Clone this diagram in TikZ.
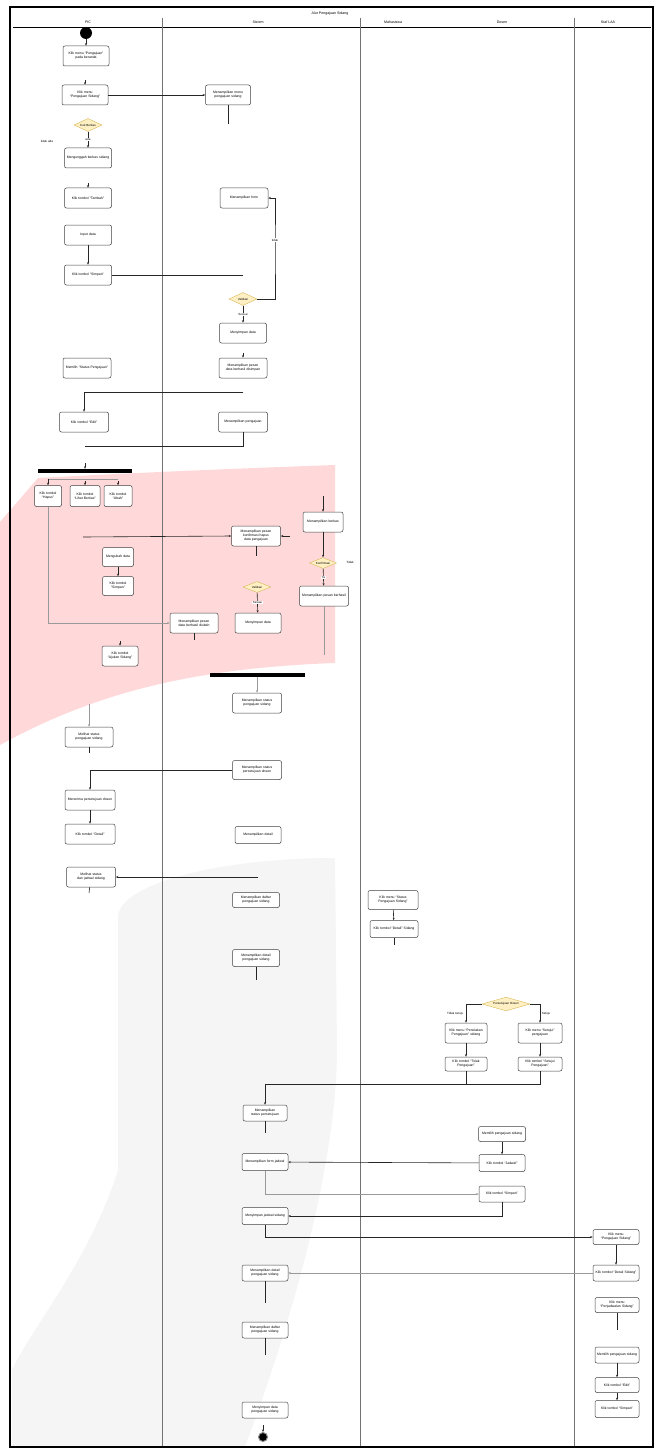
\documentclass[tikz,border=0pt]{standalone}
\usepackage{fontspec}
\setmainfont{Liberation Sans}
\usetikzlibrary{arrows.meta,shapes.geometric}
\definecolor{wmpink}{RGB}{255,217,217}
\definecolor{wmgrey}{RGB}{245,245,245}
\definecolor{dfill}{RGB}{255,240,196}
\definecolor{ddraw}{RGB}{214,182,86}
\tikzset{
 act/.style={draw=black!75, line width=0.5pt, rounded corners=2pt, fill=white, align=center, font=\fontsize{3.4}{4}\selectfont, inner sep=1pt},
 dec/.style={diamond, aspect=2.6, draw=ddraw, fill=dfill, line width=0.4pt, inner sep=0.4pt, font=\fontsize{3}{3.5}\selectfont},
 conn/.style={draw=black!85, line width=0.6pt},
 arr/.style={conn, -{Stealth[length=2.5pt,width=2pt]}},
 gconn/.style={draw=black!40, line width=0.6pt},
 garr/.style={gconn, -{Stealth[length=2.5pt,width=2pt]}},
 lbl/.style={font=\fontsize{3}{3.5}\selectfont, inner sep=0.5pt},
 lane/.style={font=\fontsize{3.6}{4}\selectfont, inner sep=0.5pt},
 syncbar/.style={fill=black, inner sep=0pt, minimum height=4pt},
}
\newcommand{\actnode}[6]{\node[act, minimum width=#4pt, minimum height=#5pt, text width=\dimexpr#4pt-3pt\relax] (#1) at (#2,#3) {#6};}
\begin{document}
\hyphenpenalty=10000
\exhyphenpenalty=10000
\lefthyphenmin=64
\begin{tikzpicture}[x=1pt,y=-1pt]
\useasboundingbox (0,0) rectangle (660,1450);
% watermark
\fill[wmpink] (0,522) -- (38,478) .. controls (150,472) and (250,468) .. (335,465) -- (335,663) .. controls (200,668) and (100,690) .. (0,745) -- cycle;
\fill[wmgrey] (335,858) .. controls (230,858) and (125,880) .. (118,915) -- (118,1170) .. controls (90,1260) and (30,1330) .. (12,1370) -- (12,1447) -- (245,1447) .. controls (300,1300) and (337,1150) .. (337,1050) -- cycle;
% frame and lanes
\draw[line width=1.6pt] (10,7) rectangle (653,1447);
\draw[line width=0.6pt] (13,27) -- (651,27);
\draw[black!55, line width=0.8pt] (162,18) -- (162,1446);
\draw[black!55, line width=0.8pt] (360,18) -- (360,1446);
\draw[black!55, line width=0.8pt] (574,18) -- (574,1446);
\node[lane] (title) at (330,14) {Alur Pengajuan Sidang};
\node[lane] (L1) at (88,22) {PIC};
\node[lane] (L2) at (258,22) {Sistem};
\node[lane] (L3) at (393,22) {Mahasiswa};
\node[lane] (L4) at (502,22) {Dosen};
\node[lane] (L5) at (608,22) {Staf LAA};
% start
\node[circle, fill=black, minimum size=12pt, inner sep=0pt] (start) at (86,33) {};
% nodes
\actnode{n1}{86}{56}{46}{20}{Klik menu ``Pengajuan'' pada beranda}
\actnode{n2}{85}{95}{46}{20}{Klik menu ``Pengajuan Sidang''}
\actnode{s1}{228}{95}{45}{20}{Menampilkan menu pengajuan sidang}
\node[dec, minimum width=28pt, minimum height=13pt] (d1) at (88,125) {Cek Berkas};
\actnode{n3}{88}{158}{47}{20}{Mengunggah berkas sidang}
\actnode{n4}{88}{198}{47}{20}{Klik tombol ``Tambah''}
\actnode{n5}{88}{235}{47}{20}{Input data}
\actnode{n6}{88}{275}{47}{20}{Klik tombol ``Simpan''}
\actnode{s2}{244}{198}{48}{20}{Menampilkan form}
\node[dec, minimum width=28pt, minimum height=13pt] (d2) at (243,299) {Validasi};
\actnode{s3}{243}{333}{47}{20}{Menyimpan data}
\actnode{s4}{243}{368}{48}{20}{Menampilkan pesan data berhasil disimpan}
\actnode{n7}{87}{368}{48}{20}{Memilih ``Status Pengajuan''}
\actnode{n8}{84}{422}{49}{20}{Klik tombol ``Edit''}
\actnode{s5}{243}{422}{49}{20}{Menampilkan pengajuan}
\node[syncbar, minimum width=94pt] (fork) at (85,471) {};
\actnode{a1}{48}{496}{27}{21}{Klik tombol ``Hapus''}
\actnode{b1}{85}{496}{30}{21}{Klik tombol ``Lihat Berkas''}
\actnode{c1}{118}{496}{28}{21}{Klik tombol ``Ubah''}
\actnode{s6}{256}{536}{49}{20}{Menampilkan pesan konfirmasi hapus data pengajuan}
\actnode{s7}{323}{522}{40}{20}{Menampilkan berkas}
\node[dec, minimum width=27pt, minimum height=11pt] (d3) at (323,563) {Konfirmasi};
\actnode{s8}{324}{596}{49}{20}{Menampilkan pesan berhasil}
\actnode{n9}{118}{557}{31}{19}{Mengubah data}
\actnode{n10}{118}{586}{31}{19}{Klik tombol ``Simpan''}
\node[dec, minimum width=28pt, minimum height=11pt] (d4) at (257,587) {Validasi};
\actnode{s9}{258}{623}{46}{20}{Menyimpan data}
\actnode{s10}{194}{623}{48}{20}{Menampilkan pesan data berhasil diubah}
\actnode{n11}{120}{656}{36}{20}{Klik tombol ``Ajukan Sidang''}
\node[syncbar, minimum width=95pt] (join) at (257,675) {};
\actnode{s11}{257}{703}{49}{20}{Menampilkan status pengajuan sidang}
\actnode{n12}{89}{737}{48}{20}{Melihat status pengajuan sidang}
\actnode{s12}{257}{770}{49}{19}{Menampilkan status persetujuan dosen}
\actnode{n13}{90}{800}{50}{20}{Menerima persetujuan dosen}
\actnode{n14}{90}{834}{50}{20}{Klik tombol ``Detail''}
\actnode{s13}{258}{835}{46}{17}{Menampilkan detail}
\actnode{n15}{91}{877}{49}{20}{Melihat status dan jadwal sidang}
\actnode{s14}{256}{900}{47}{15}{Menampilkan daftar pengajuan sidang}
\actnode{s15}{256}{958}{47}{17}{Menampilkan detail pengajuan sidang}
\actnode{m1}{393}{900}{50}{19}{Klik menu ``Status Pengajuan Sidang''}
\actnode{m2}{394}{929}{48}{17}{Klik tombol ``Detail'' Sidang}
\node[dec, minimum width=48pt, minimum height=11pt] (d5) at (506,1004) {Persetujuan Dosen};
\actnode{dl1}{466}{1033}{42}{20}{Klik menu ``Penolakan Pengajuan'' sidang}
\actnode{dr1}{540}{1033}{44}{20}{Klik menu ``Setujui'' pengajuan}
\actnode{dl2}{466}{1064}{42}{14}{Klik tombol ``Tolak Pengajuan''}
\actnode{dr2}{540}{1064}{44}{14}{Klik tombol ``Setujui Pengajuan''}
\actnode{s16}{265}{1113}{44}{16}{Menampilkan status persetujuan}
\actnode{dd1}{502}{1134}{47}{15}{Memilih pengajuan sidang}
\actnode{dd2}{502}{1163}{46}{17}{Klik tombol ``Jadwal''}
\actnode{s17}{265}{1162}{46}{17}{Menampilkan form jadwal}
\actnode{dd3}{502}{1194}{46}{16}{Klik tombol ``Simpan''}
\actnode{s18}{265}{1216}{46}{17}{Menyimpan jadwal sidang}
\actnode{st1}{616}{1237}{46}{15}{Klik menu ``Pengajuan Sidang''}
\actnode{st2}{616}{1273}{46}{16}{Klik tombol ``Detail Sidang''}
\actnode{s19}{265}{1273}{46}{16}{Menampilkan detail pengajuan sidang}
\actnode{st3}{617}{1305}{44}{15}{Klik menu ``Penjadwalan Sidang''}
\actnode{s20}{265}{1330}{46}{16}{Menampilkan daftar pengajuan sidang}
\actnode{st4}{617}{1355}{44}{16}{Memilih pengajuan sidang}
\actnode{st5}{617}{1385}{44}{15}{Klik tombol ``Edit''}
\actnode{st6}{617}{1409}{44}{17}{Klik tombol ``Simpan''}
\actnode{s21}{265}{1410}{46}{16}{Menyimpan data pengajuan sidang}
\node[circle, fill=black, draw=black!45, line width=1pt, minimum size=9pt, inner sep=0pt] (end) at (263,1437) {};
% labels
\node[lbl] (l1) at (47,141) {tidak ada};
\node[lbl] (l4) at (350,562) {Tidak};
% helper coordinates
\coordinate (n2a) at (85,80);
\coordinate (n4a) at (88,183);
\coordinate (s1e) at (228,124);
\coordinate (n6e) at (243,275);
\coordinate (k1) at (275,250);
\coordinate (s4a) at (243,353);
\coordinate (h1) at (243,392);
\coordinate (h2) at (85,446);
\coordinate (fk) at (85,463);
\coordinate (fa) at (48,479);
\coordinate (fc) at (118,479);
\coordinate (fb) at (85,481);
\coordinate (fcc) at (118,481);
\coordinate (s10e) at (194,640);
\coordinate (h3) at (83,537);
\coordinate (h4) at (290,536);
\coordinate (s6e) at (256,556);
\coordinate (h5) at (323,496);
\coordinate (s8e) at (324,655);
\coordinate (n11a) at (120,641);
\coordinate (h6) at (89,704);
\coordinate (n12e) at (89,753);
\coordinate (h7) at (258,877);
\coordinate (n15e) at (89,893);
\coordinate (s15e) at (256,980);
\coordinate (m2e) at (394,945);
\coordinate (h8) at (265,1084);
\coordinate (h9) at (466,1084);
\coordinate (s16e) at (265,1133);
\coordinate (s19e) at (265,1303);
\coordinate (st3e) at (617,1330);
\coordinate (s20e) at (265,1355);
\coordinate (ea) at (263,1425);
% connectors
\draw[arr] (start) -- (n1);
\draw[arr] (n2a) -- (n2.north);
\draw[arr] (n2) -- (s1);
\draw[conn] (s1) -- (s1e);
\draw[arr] (d1) -- node[lbl, fill=white] {ada} (n3);
\draw[arr] (n4a) -- (n4.north);
\draw[arr] (n5) -- (n6);
\draw[conn] (n6) -- (n6e);
\draw[arr] (d2.east) -| (k1) |- (s2.east);
\node[lbl, fill=white] (l2) at (275,240) {tidak};
\draw[arr] (d2) -- node[lbl, fill=white] {Sesuai} (s3);
\draw[arr] (s4a) -- (s4.north);
\draw[arr] (h1) -| (n8.north);
\draw[conn] (s5.south) |- (h2);
\draw[arr] (fk) -- (fork);
\draw[gconn] (fc) -- (fa);
\draw[arr] (fa) -- (a1.north);
\draw[arr] (fb) -- (b1.north);
\draw[arr] (fcc) -- (c1.north);
\draw[garr] (a1.south) |- (s10.west);
\draw[conn] (s10) -- (s10e);
\draw[arr] (h3) -- (s6.west);
\draw[arr] (h4) -- (s6.east);
\draw[conn] (s6) -- (s6e);
\draw[arr] (h5) -- (s7.north);
\draw[arr] (s7) -- (d3);
\draw[arr] (d3) -- node[lbl, fill=white] {Ya} (s8);
\draw[gconn] (s8) -- (s8e);
\draw[arr] (n9) -- (n10);
\draw[arr] (d4) -- node[lbl, fill=white] {Sesuai} (s9);
\draw[arr] (n11a) -- (n11.north);
\draw[garr] (join) -- (s11);
\draw[garr] (h6) -- (n12.north);
\draw[conn] (n12) -- (n12e);
\draw[arr] (s12.west) -| (n13.north);
\draw[arr] (n13) -- (n14);
\draw[arr] (h7) -- (n15.east);
\draw[conn] (n15) -- (n15e);
\draw[conn] (s15) -- (s15e);
\draw[arr] (m1) -- (m2);
\draw[conn] (m2) -- (m2e);
\draw[arr] (d5.west) -| node[lbl, pos=0.75, left=2pt] {Tidak setuju} (dl1.north);
\draw[arr] (d5.east) -| node[lbl, pos=0.75, right=1pt] {Setuju} (dr1.north);
\draw[arr] (dl1) -- (dl2);
\draw[arr] (dr1) -- (dr2);
\draw[arr] (dr2.south) |- (h8) -- (s16.north);
\draw[conn] (dl2) -- (h9);
\draw[conn] (s16) -- (s16e);
\draw[arr] (dd1) -- (dd2);
\draw[arr] (dd2) -- (s17);
\draw[garr] (s17.south) |- (dd3.west);
\draw[arr] (dd3.south) |- (s18.east);
\draw[arr] (s18.south) |- (st1.west);
\draw[arr] (st1) -- (st2);
\draw[garr] (st2) -- (s19);
\draw[conn] (s19) -- (s19e);
\draw[conn] (st3) -- (st3e);
\draw[conn] (s20) -- (s20e);
\draw[arr] (st4) -- (st5);
\draw[arr] (st5) -- (st6);
\draw[arr] (ea) -- (end);
\end{tikzpicture}
\end{document}
